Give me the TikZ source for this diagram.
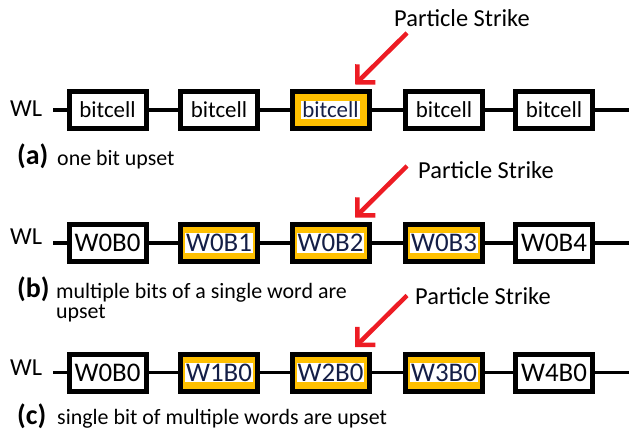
\documentclass[tikz,border=0pt]{standalone}
\usepackage{fontspec}
\setmainfont{Carlito}
\usetikzlibrary{arrows.meta,calc}

\definecolor{upsetfill}{RGB}{255,192,0}
\definecolor{strikered}{RGB}{237,28,36}
\definecolor{hitink}{RGB}{20,30,70}

% white highlight behind the label of an upset cell
\newcommand\whitebg[1]{{\setlength{\fboxsep}{1bp}\colorbox{white}{#1}}}

\begin{document}
\begin{tikzpicture}[x=1bp,y=-1bp,
  cell/.style={draw=black, fill=white, line width=5bp,
    minimum width=77bp, minimum height=37bp, inner sep=0pt,
    font=\fontsize{23}{27}\selectfont},
  wordcell/.style={cell, font=\fontsize{27}{30}\selectfont},
  hit/.style={fill=upsetfill, text=hitink},
  wire/.style={line width=3.3bp, draw=black},
  strike/.style={draw=strikered, line width=4.5bp,
    -{Straight Barb[angle=90:18bp, sharp]}},
  wl/.style={anchor=base west, inner sep=0pt, font=\fontsize{24.5}{28}\selectfont},
  note/.style={anchor=base west, inner sep=0pt, font=\fontsize{24.5}{28}\selectfont},
  caption/.style={anchor=base west, inner sep=0pt, font=\fontsize{22}{20}\selectfont},
  tag/.style={anchor=base west, inner sep=0pt, font=\fontsize{28}{30}\selectfont\bfseries},
]
\useasboundingbox (0,0) rectangle (629,436);

% ---------- (a) one bit upset ----------
\node[wl] (wla) at (10,117) {WL};
\node[cell] (a1) at (107.5,110) {bitcell};
\node[cell] (a2) at (219,110) {bitcell};
\node[cell,hit] (a3) at (330.5,110) {\whitebg{bitcell}};
\node[cell] (a4) at (444,110) {bitcell};
\node[cell] (a5) at (554,110) {bitcell};
\coordinate (aw) at (53,110);
\coordinate (ae) at (629,110);
\draw[wire] (aw) -- (a1) -- (a2) -- (a3) -- (a4) -- (a5) -- (ae);
\coordinate (sa) at (407,33);
\draw[strike] (sa) -- ([xshift=-16.5bp,yshift=4.5bp]a3.north east);
\node[note] (pa) at (394,27) {Particle Strike};
\node[tag] (ta) at (17,165) {(a)};
\node[caption] (ca) at (57,166) {one bit upset};

% ---------- (b) multiple bits of a single word ----------
\node[wl] (wlb) at (10,245) {WL};
\node[wordcell] (b1) at (107.5,243) {W0B0};
\node[wordcell,hit] (b2) at (219,243) {\whitebg{W0B1}};
\node[wordcell,hit] (b3) at (330.5,243) {\whitebg{W0B2}};
\node[wordcell,hit] (b4) at (444,243) {\whitebg{W0B3}};
\node[wordcell] (b5) at (554,243) {W0B4};
\coordinate (bw) at (53,243);
\coordinate (be) at (629,243);
\draw[wire] (bw) -- (b1) -- (b2) -- (b3) -- (b4) -- (b5) -- (be);
\coordinate (sb) at (407,166);
\draw[strike] (sb) -- ([xshift=-16.5bp,yshift=4.5bp]b3.north east);
\node[note] (pb) at (418,179) {Particle Strike};
\node[tag] (tb) at (17,298) {(b)};
\node[caption, anchor=north west, align=left] (cb) at (56,283)
  {multiple bits of a single word are\\upset};

% ---------- (c) single bit of multiple words ----------
\node[wl] (wlc) at (10,375) {WL};
\node[wordcell] (c1) at (107.5,372.5) {W0B0};
\node[wordcell,hit] (c2) at (219,372.5) {\whitebg{W1B0}};
\node[wordcell,hit] (c3) at (330.5,372.5) {\whitebg{W2B0}};
\node[wordcell,hit] (c4) at (444,372.5) {\whitebg{W3B0}};
\node[wordcell] (c5) at (554,372.5) {W4B0};
\coordinate (cw) at (53,372.5);
\coordinate (ce) at (629,372.5);
\draw[wire] (cw) -- (c1) -- (c2) -- (c3) -- (c4) -- (c5) -- (ce);
\coordinate (sc) at (407,295.5);
\draw[strike] (sc) -- ([xshift=-16.5bp,yshift=4.5bp]c3.north east);
\node[note] (pc) at (415,305) {Particle Strike};
\node[tag] (tc) at (17,424) {(c)};
\node[caption] (cc) at (57,424) {single bit of multiple words are upset};
\end{tikzpicture}
\end{document}
